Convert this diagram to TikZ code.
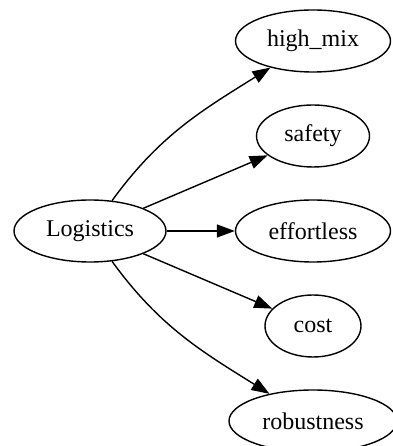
\documentclass[tikz,border=0pt]{standalone}
\usepackage{fontspec}
\setmainfont{Liberation Serif}
\usepackage{tikz}
\usetikzlibrary{arrows.meta}
\usetikzlibrary{positioning}
\usetikzlibrary{shapes.geometric}

\begin{document}
\begin{tikzpicture}[x=1pt,y=1pt,->,>={Triangle[length=18pt,width=13pt]},line width=1.4pt,
                    node distance=95pt,
                    main node/.style={ellipse,draw,inner sep=0pt,minimum height=62pt,
                                      font=\fontsize{24}{28}\selectfont}]
    \useasboundingbox (0,0) rectangle (392,446);
    \node[main node, minimum width=152pt] (L) at (90,215) {Logistics};
    \node[main node, minimum width=155pt] (E) at (313,215) {effortless};
    \node[main node, minimum width=113pt] (S) [above of=E] {safety};
    \node[main node, minimum width=155pt] (H) [above of=S] {high\_mix};
    \node[main node, minimum width=96pt] (C) [below of=E] {cost};
    \node[main node, minimum width=168pt] (R) [below of=C] {robustness};
    \path
        (L)
        edge [out=54, in=212] (H)
        edge (S)
        edge (E)
        edge (C)
        edge [out=-54, in=148] (R);
\end{tikzpicture}
\end{document}
